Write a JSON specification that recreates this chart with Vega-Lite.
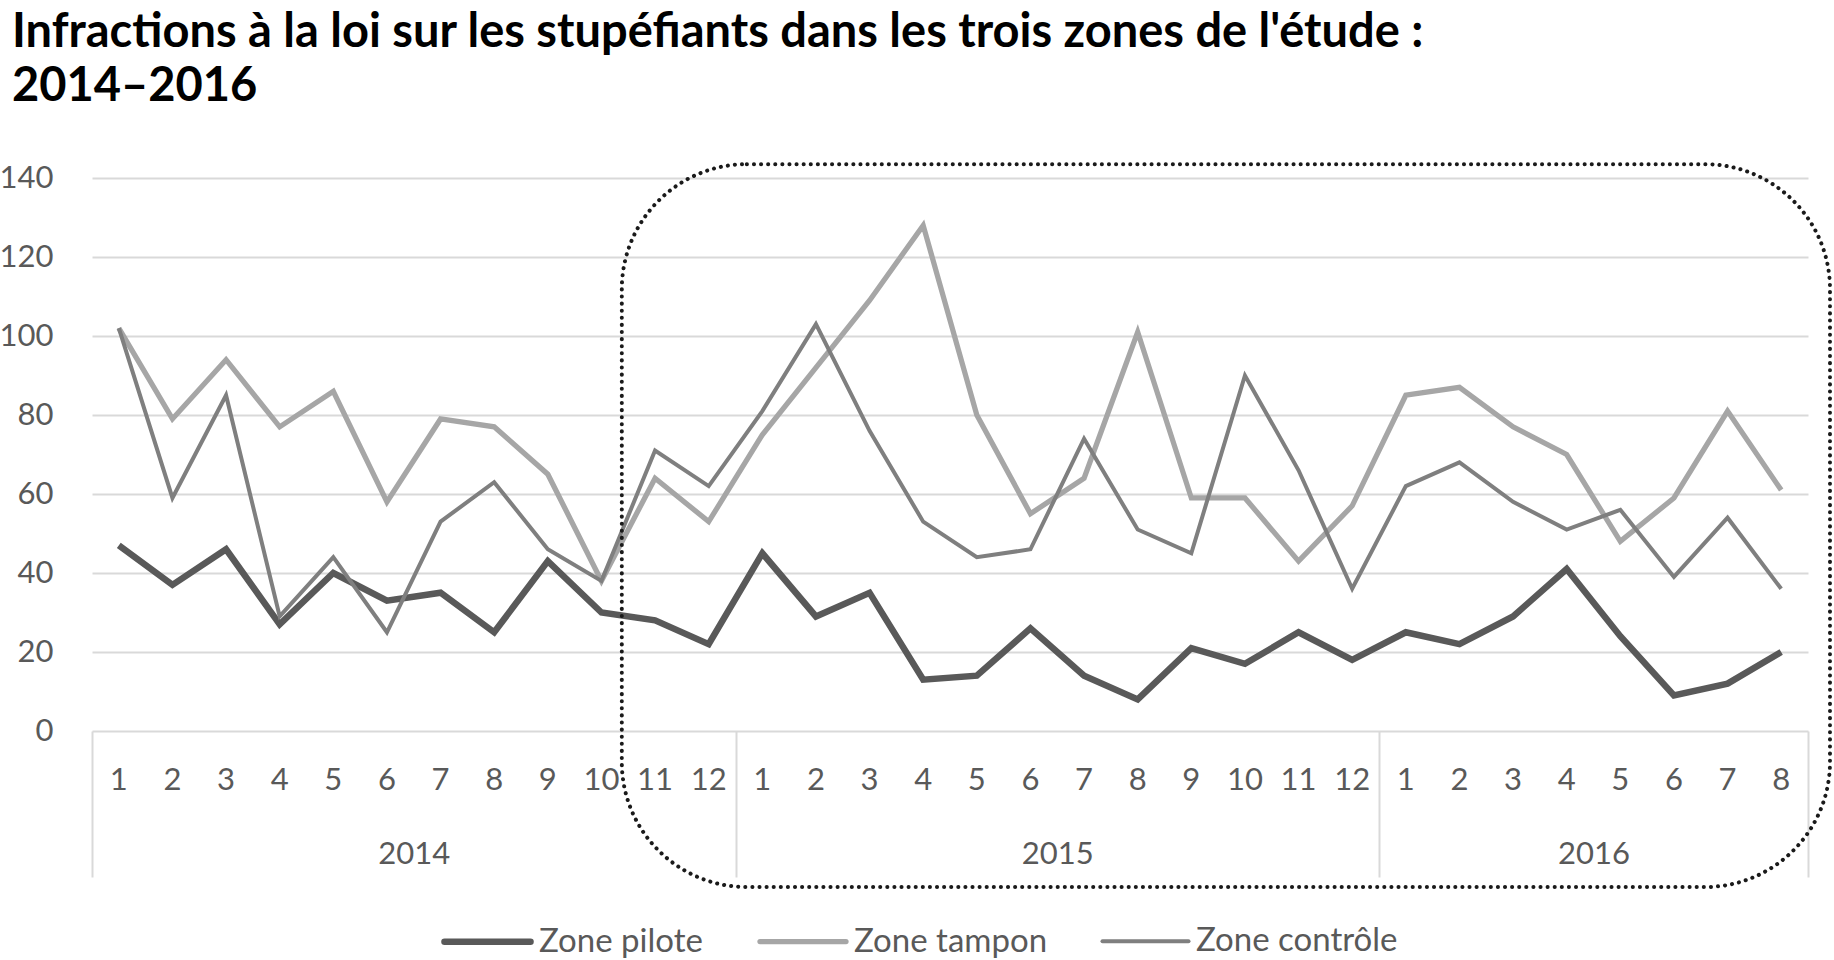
{
  "$schema": "https://vega.github.io/schema/vega-lite/v6.json",
  "width": 1716,
  "height": 553,
  "autosize": {"type": "none"},
  "padding": {"left": 92, "top": 178, "right": 26, "bottom": 229},
  "background": "white",
  "config": {
    "font": "Lato",
    "view": {"stroke": null},
    "axisY": {"grid": true, "gridColor": "#d9d9d9", "gridWidth": 2, "domain": false, "ticks": false, "labelPadding": 39, "labelFontSize": 31, "labelColor": "#595959", "labelFont": "Lato"}
  },
  "title": {
    "text": ["Infractions à la loi sur les stupéfiants dans les trois zones de l'étude :", "2014–2016"],
    "anchor": "start",
    "frame": "group",
    "font": "Lato",
    "fontWeight": "bold",
    "fontSize": 47,
    "lineHeight": 54,
    "color": "#000000",
    "dx": -80,
    "offset": 51
  },
  "datasets": {
    "mensuel": [
      {"periode": "2014-01", "zone": "Zone pilote", "valeur": 47},
      {"periode": "2014-02", "zone": "Zone pilote", "valeur": 37},
      {"periode": "2014-03", "zone": "Zone pilote", "valeur": 46},
      {"periode": "2014-04", "zone": "Zone pilote", "valeur": 27},
      {"periode": "2014-05", "zone": "Zone pilote", "valeur": 40},
      {"periode": "2014-06", "zone": "Zone pilote", "valeur": 33},
      {"periode": "2014-07", "zone": "Zone pilote", "valeur": 35},
      {"periode": "2014-08", "zone": "Zone pilote", "valeur": 25},
      {"periode": "2014-09", "zone": "Zone pilote", "valeur": 43},
      {"periode": "2014-10", "zone": "Zone pilote", "valeur": 30},
      {"periode": "2014-11", "zone": "Zone pilote", "valeur": 28},
      {"periode": "2014-12", "zone": "Zone pilote", "valeur": 22},
      {"periode": "2015-01", "zone": "Zone pilote", "valeur": 45},
      {"periode": "2015-02", "zone": "Zone pilote", "valeur": 29},
      {"periode": "2015-03", "zone": "Zone pilote", "valeur": 35},
      {"periode": "2015-04", "zone": "Zone pilote", "valeur": 13},
      {"periode": "2015-05", "zone": "Zone pilote", "valeur": 14},
      {"periode": "2015-06", "zone": "Zone pilote", "valeur": 26},
      {"periode": "2015-07", "zone": "Zone pilote", "valeur": 14},
      {"periode": "2015-08", "zone": "Zone pilote", "valeur": 8},
      {"periode": "2015-09", "zone": "Zone pilote", "valeur": 21},
      {"periode": "2015-10", "zone": "Zone pilote", "valeur": 17},
      {"periode": "2015-11", "zone": "Zone pilote", "valeur": 25},
      {"periode": "2015-12", "zone": "Zone pilote", "valeur": 18},
      {"periode": "2016-01", "zone": "Zone pilote", "valeur": 25},
      {"periode": "2016-02", "zone": "Zone pilote", "valeur": 22},
      {"periode": "2016-03", "zone": "Zone pilote", "valeur": 29},
      {"periode": "2016-04", "zone": "Zone pilote", "valeur": 41},
      {"periode": "2016-05", "zone": "Zone pilote", "valeur": 24},
      {"periode": "2016-06", "zone": "Zone pilote", "valeur": 9},
      {"periode": "2016-07", "zone": "Zone pilote", "valeur": 12},
      {"periode": "2016-08", "zone": "Zone pilote", "valeur": 20},
      {"periode": "2014-01", "zone": "Zone tampon", "valeur": 102},
      {"periode": "2014-02", "zone": "Zone tampon", "valeur": 79},
      {"periode": "2014-03", "zone": "Zone tampon", "valeur": 94},
      {"periode": "2014-04", "zone": "Zone tampon", "valeur": 77},
      {"periode": "2014-05", "zone": "Zone tampon", "valeur": 86},
      {"periode": "2014-06", "zone": "Zone tampon", "valeur": 58},
      {"periode": "2014-07", "zone": "Zone tampon", "valeur": 79},
      {"periode": "2014-08", "zone": "Zone tampon", "valeur": 77},
      {"periode": "2014-09", "zone": "Zone tampon", "valeur": 65},
      {"periode": "2014-10", "zone": "Zone tampon", "valeur": 38},
      {"periode": "2014-11", "zone": "Zone tampon", "valeur": 64},
      {"periode": "2014-12", "zone": "Zone tampon", "valeur": 53},
      {"periode": "2015-01", "zone": "Zone tampon", "valeur": 75},
      {"periode": "2015-02", "zone": "Zone tampon", "valeur": 92},
      {"periode": "2015-03", "zone": "Zone tampon", "valeur": 109},
      {"periode": "2015-04", "zone": "Zone tampon", "valeur": 128},
      {"periode": "2015-05", "zone": "Zone tampon", "valeur": 80},
      {"periode": "2015-06", "zone": "Zone tampon", "valeur": 55},
      {"periode": "2015-07", "zone": "Zone tampon", "valeur": 64},
      {"periode": "2015-08", "zone": "Zone tampon", "valeur": 101},
      {"periode": "2015-09", "zone": "Zone tampon", "valeur": 59},
      {"periode": "2015-10", "zone": "Zone tampon", "valeur": 59},
      {"periode": "2015-11", "zone": "Zone tampon", "valeur": 43},
      {"periode": "2015-12", "zone": "Zone tampon", "valeur": 57},
      {"periode": "2016-01", "zone": "Zone tampon", "valeur": 85},
      {"periode": "2016-02", "zone": "Zone tampon", "valeur": 87},
      {"periode": "2016-03", "zone": "Zone tampon", "valeur": 77},
      {"periode": "2016-04", "zone": "Zone tampon", "valeur": 70},
      {"periode": "2016-05", "zone": "Zone tampon", "valeur": 48},
      {"periode": "2016-06", "zone": "Zone tampon", "valeur": 59},
      {"periode": "2016-07", "zone": "Zone tampon", "valeur": 81},
      {"periode": "2016-08", "zone": "Zone tampon", "valeur": 61},
      {"periode": "2014-01", "zone": "Zone contrôle", "valeur": 102},
      {"periode": "2014-02", "zone": "Zone contrôle", "valeur": 59},
      {"periode": "2014-03", "zone": "Zone contrôle", "valeur": 85},
      {"periode": "2014-04", "zone": "Zone contrôle", "valeur": 29},
      {"periode": "2014-05", "zone": "Zone contrôle", "valeur": 44},
      {"periode": "2014-06", "zone": "Zone contrôle", "valeur": 25},
      {"periode": "2014-07", "zone": "Zone contrôle", "valeur": 53},
      {"periode": "2014-08", "zone": "Zone contrôle", "valeur": 63},
      {"periode": "2014-09", "zone": "Zone contrôle", "valeur": 46},
      {"periode": "2014-10", "zone": "Zone contrôle", "valeur": 38},
      {"periode": "2014-11", "zone": "Zone contrôle", "valeur": 71},
      {"periode": "2014-12", "zone": "Zone contrôle", "valeur": 62},
      {"periode": "2015-01", "zone": "Zone contrôle", "valeur": 81},
      {"periode": "2015-02", "zone": "Zone contrôle", "valeur": 103},
      {"periode": "2015-03", "zone": "Zone contrôle", "valeur": 76},
      {"periode": "2015-04", "zone": "Zone contrôle", "valeur": 53},
      {"periode": "2015-05", "zone": "Zone contrôle", "valeur": 44},
      {"periode": "2015-06", "zone": "Zone contrôle", "valeur": 46},
      {"periode": "2015-07", "zone": "Zone contrôle", "valeur": 74},
      {"periode": "2015-08", "zone": "Zone contrôle", "valeur": 51},
      {"periode": "2015-09", "zone": "Zone contrôle", "valeur": 45},
      {"periode": "2015-10", "zone": "Zone contrôle", "valeur": 90},
      {"periode": "2015-11", "zone": "Zone contrôle", "valeur": 66},
      {"periode": "2015-12", "zone": "Zone contrôle", "valeur": 36},
      {"periode": "2016-01", "zone": "Zone contrôle", "valeur": 62},
      {"periode": "2016-02", "zone": "Zone contrôle", "valeur": 68},
      {"periode": "2016-03", "zone": "Zone contrôle", "valeur": 58},
      {"periode": "2016-04", "zone": "Zone contrôle", "valeur": 51},
      {"periode": "2016-05", "zone": "Zone contrôle", "valeur": 56},
      {"periode": "2016-06", "zone": "Zone contrôle", "valeur": 39},
      {"periode": "2016-07", "zone": "Zone contrôle", "valeur": 54},
      {"periode": "2016-08", "zone": "Zone contrôle", "valeur": 36}
    ]
  },
  "resolve": {"scale": {"x": "independent"}, "axis": {"x": "independent"}},
  "layer": [
    {
      "data": {"name": "mensuel"},
      "mark": {"type": "line", "strokeJoin": "miter", "strokeCap": "butt"},
      "encoding": {
        "x": {
          "field": "periode",
          "type": "ordinal",
          "sort": "ascending",
          "bandPosition": 0.5,
          "scale": {"type": "band", "paddingInner": 0, "paddingOuter": 0},
          "axis": {
            "orient": "bottom",
            "title": null,
            "domain": false,
            "ticks": false,
            "grid": false,
            "labelAngle": 0,
            "labelExpr": "toNumber(slice(datum.value, 5))",
            "labelBaseline": "middle",
            "labelPadding": 49,
            "labelFontSize": 31,
            "labelFont": "Lato",
            "labelColor": "#595959"
          }
        },
        "y": {
          "field": "valeur",
          "type": "quantitative",
          "scale": {"domain": [0, 140], "nice": false},
          "axis": {"title": null, "values": [0, 20, 40, 60, 80, 100, 120, 140]}
        },
        "color": {
          "field": "zone",
          "type": "nominal",
          "scale": {"domain": ["Zone pilote", "Zone tampon", "Zone contrôle"], "range": ["#595959", "#a6a6a6", "#7f7f7f"]},
          "legend": {
            "orient": "none",
            "legendX": 349,
            "legendY": 717,
            "direction": "horizontal",
            "title": null,
            "symbolType": "stroke",
            "symbolSize": 7400,
            "symbolStrokeWidth": 5,
            "labelFontSize": 33,
            "labelFont": "Lato",
            "labelColor": "#595959",
            "labelLimit": 400,
            "labelOffset": 5,
            "columnPadding": 46,
            "encode": {"symbols": {"update": {"strokeWidth": {"scale": "strokeWidth", "field": "value"}, "strokeCap": {"value": "round"}}}}
          }
        },
        "strokeWidth": {
          "field": "zone",
          "type": "nominal",
          "scale": {"domain": ["Zone pilote", "Zone tampon", "Zone contrôle"], "range": [6.5, 4, 4]},
          "legend": null
        }
      }
    },
    {
      "data": {"values": [{"zone_etudiee": "période d'intervention"}]},
      "mark": {"type": "rect", "filled": false, "fill": null, "stroke": "#1a1a1a", "strokeWidth": 4, "strokeDash": [0.1, 7], "strokeCap": "round", "cornerRadius": 125},
      "encoding": {
        "x": {
          "datum": 9.88,
          "type": "quantitative",
          "scale": {"domain": [0, 32], "nice": false, "zero": false},
          "axis": {
            "orient": "bottom",
            "title": null,
            "values": [0, 6, 12, 18, 24, 28, 32],
            "domain": false,
            "grid": false,
            "ticks": true,
            "tickSize": 146,
            "tickWidth": 2,
            "tickColor": "#d9d9d9",
            "tickOpacity": {"condition": {"test": "datum.value == 6 || datum.value == 18 || datum.value == 28", "value": 0}, "value": 1},
            "labelExpr": "datum.value == 6 ? '2014' : datum.value == 18 ? '2015' : datum.value == 28 ? '2016' : ''",
            "labelBaseline": "middle",
            "labelPadding": -23,
            "labelFlush": false,
            "labelOverlap": false,
            "labelBound": false,
            "labelFontSize": 31,
            "labelFont": "Lato",
            "labelColor": "#595959"
          }
        },
        "x2": {"datum": 32.41},
        "y": {"datum": 143.5, "type": "quantitative", "axis": {"title": null}},
        "y2": {"datum": -39.5}
      }
    }
  ]
}
